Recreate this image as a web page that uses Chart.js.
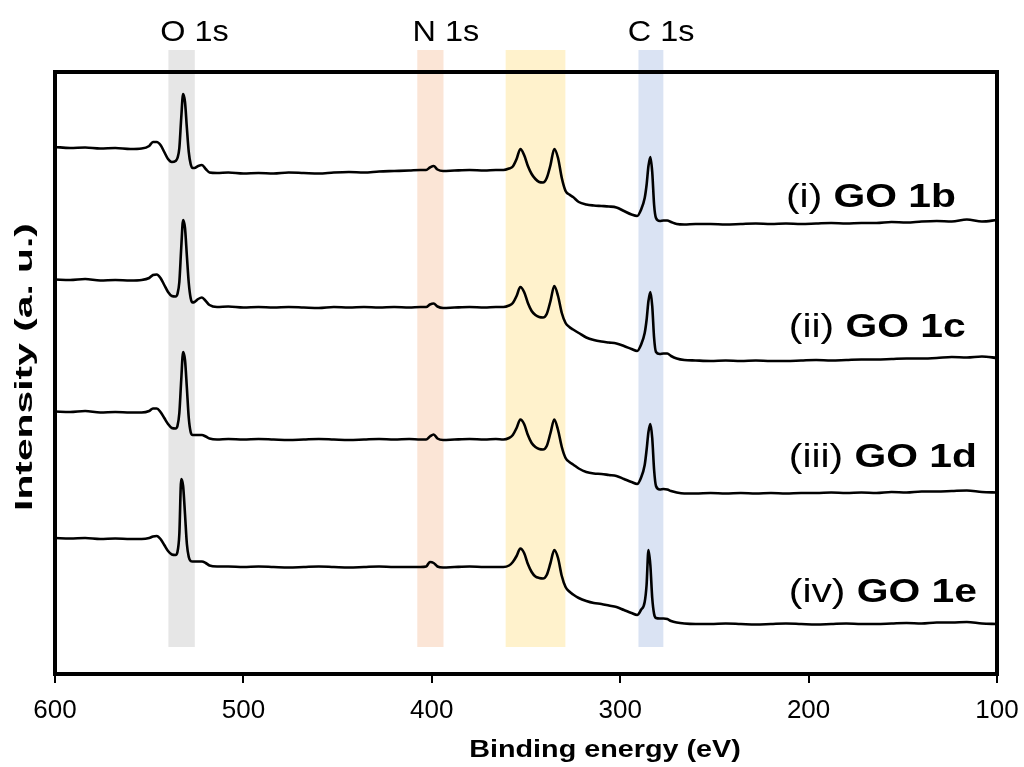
<!DOCTYPE html>
<html><head><meta charset="utf-8">
<script src="https://cdn.jsdelivr.net/npm/chart.js@4"></script>
<style>html,body{margin:0;padding:0;background:#fff}#wrap{width:1024px;height:767px}</style>
</head><body><div id="wrap"><canvas id="c" width="1024" height="767"></canvas></div>
<script>
// Binding energy grid (eV)
const energy = [600,592,584,576,568,560,554,550,548,546,544,542,540,538,536,535,534,533,532,531,530,529,528,527,526,524,522,520,518,514,508,500,492,484,476,468,460,452,444,436,428,420,412,406,403,401,399,397,394,388,380,372,366,362,359,357,355,353,351,349,347,345,343,341,339,337,335,333,331,329,327,325,322,318,314,310,306,302,298,294,291,289,287,286,285,284,283,282,281,279,277,275,273,270,266,260,252,244,236,228,220,212,204,196,188,180,172,164,156,148,140,132,124,116,108,100];

// Intensities (a.u., offset-stacked)
const goB = [527,526,526.5,525.5,526,525,525.5,528,532,532,529,522,515,512,513,516,526,556,580,572,546,522,510,506,506,508,509,505,501.5,501,501.5,500.5,501,500.5,501.5,501,500.5,501.5,502,501.5,502.5,503,503.5,504,504,506.5,508,504.5,503,503.5,504,503.5,504,504,505.5,507.5,515,525,519,508,500,495,492,491.5,496,509,525,516,496,483,479.5,477,472,469.5,468.5,468,467.5,466.5,463,459.5,458,464,476,489,508,517,502,469,456,453,453.5,453.5,452,450,449.5,450,450,449.5,450,450.5,450,450.5,450,450.5,451,450.5,451,451,452,451.5,452.5,453,452.5,454.5,452.5,454];
const goC = [394.5,394,395,393.5,394,393.5,394,396,399,399.5,396,389,382,378,377.5,380,392,426,454,446,418,391,376,371.5,372,375,376.5,373,369,367,367.5,366.5,367,366.5,367,366.5,366,367,366.5,367,366.5,367,366.5,367,367,369.5,370.5,367.5,366,366.5,367,366.5,367,367,368.5,371,378,387,382,371,363,359,357,356.5,360,373,388,378,361,351,347,344.5,341,336.5,334,332.5,331.5,330.5,328,325,323,329,341,354,373,382,368,336,322,320,320.5,320.5,318,315.5,314,313.5,313,313.5,313,313.5,313,313,313.5,314,313.5,314,314.5,314.5,315,315.5,315.5,316,317,316.5,317.5,316];
const goD = [262.5,262,263,261.5,262,261.5,261.5,263,265.5,265.5,262,256,250,246,245.5,248,261,294,322,314,286,256,242,239,239,239,239,237.5,235.5,234.5,235,234.5,235,234.5,234,234.5,235,234.5,234,234.5,235,234.5,235,234.5,234.5,237.5,239.5,235.5,234,234.5,235,234.5,235,234.5,236,239,246,254.5,250,239,231,227,225,224.5,228,241,254.5,244,227,216,212,209.5,205.5,202,200.5,200,199,198,195,192,190,196,209,224,242,250,236,204,188,184.5,185,184.5,183,181.5,180.5,180.5,181,180.5,181,180.5,181,180.5,181,181,181.5,181,181.5,181,182,181.5,182.5,182.5,183,183.5,182,181.5];
const goE = [136,135.5,136,135,135.5,135,135,136,137.5,138,135,129,123,119.5,119,122,140,195,188,160,130,117,113,112.5,112.5,112.5,112.5,111,108.5,107.5,107.5,107,107.5,107,106.5,107,107.5,107,106.5,107,107.5,107,107,107,107.5,112,111,107.5,106.5,107,107.5,107,107,107,108.5,112,118,125.5,121,110,102,97.5,96,95.5,99,111,124,116,98,87,82.5,79.5,76,73,71,70,68.5,67,64,61,59,64,72,89,124,109,76,60,56,55.5,55.5,55,53,51.5,50.5,50,50,50.5,50,49.5,50,50.5,50,49.5,50,50.5,50,50,50.5,51,50.5,51.5,51.5,52,50.5,50];

const seriesNames = ['(i) GO 1b','(ii) GO 1c','(iii) GO 1d','(iv) GO 1e'];
const xTicks = [600,500,400,300,200,100];
const bandRanges = [[539.8,525.8],[407.7,393.8],[360.8,329.1],[290.3,277.1]];
const peakLabels = ['O 1s','N 1s','C 1s'];
const peakLabelEnergy = [526,392.5,278.3];

// ---- styling / placement (not data) ----
const FONT = '"Liberation Sans", Arial, sans-serif';
const bandColors = ['#e6e6e6','#fbe5d6','#fff2cc','#dae3f3'];
const bandSpan = [624, 27];
const sampleLabelPos = [[212,467],[210.5,337.5],[210.5,207.5],[210.5,72.5]];

const allSeries = [goB, goC, goD, goE];
const datasets = allSeries.map((s, i) => ({
  label: seriesNames[i],
  data: energy.map((e, j) => ({x: e, y: s[j]})),
  borderColor: '#000',
  borderWidth: 2.6,
  pointRadius: 0,
  fill: false,
  cubicInterpolationMode: 'monotone',
  clip: false
}));

function drawParts(ctx, parts, x, y, sx, size, align) {
  const widths = parts.map(p => { ctx.font = (p.bold ? 'bold ' : '') + size + 'px ' + FONT; return ctx.measureText(p.t).width; });
  const total = widths.reduce((a, b) => a + b, 0);
  ctx.save();
  ctx.translate(x, y);
  ctx.scale(sx, 1);
  ctx.textBaseline = 'alphabetic';
  ctx.textAlign = 'left';
  ctx.fillStyle = '#000';
  let cx = align === 'center' ? -total / 2 : 0;
  parts.forEach((p, i) => { ctx.font = (p.bold ? 'bold ' : '') + size + 'px ' + FONT; ctx.fillText(p.t, cx, 0); cx += widths[i]; });
  ctx.restore();
}

const decor = {
  id: 'decor',
  beforeDatasetsDraw(chart) {
    const ctx = chart.ctx, xs = chart.scales.x, ys = chart.scales.y;
    ctx.save();
    bandRanges.forEach((b, i) => {
      const x1 = xs.getPixelForValue(b[0]), x2 = xs.getPixelForValue(b[1]);
      const y1 = ys.getPixelForValue(bandSpan[0]), y2 = ys.getPixelForValue(bandSpan[1]);
      ctx.fillStyle = bandColors[i];
      ctx.fillRect(Math.min(x1, x2), y1, Math.abs(x2 - x1), y2 - y1);
    });
    ctx.restore();
  },
  afterDatasetsDraw(chart) {
    const ctx = chart.ctx, a = chart.chartArea, xs = chart.scales.x, ys = chart.scales.y;
    ctx.save();
    ctx.strokeStyle = '#000';
    ctx.lineWidth = 4;
    ctx.strokeRect(a.left, a.top, a.right - a.left, a.bottom - a.top);
    ctx.restore();
    peakLabels.forEach((t, i) => {
      drawParts(ctx, [{t: t, bold: false}], xs.getPixelForValue(peakLabelEnergy[i]), 41, 1.08, 30, 'center');
    });
    seriesNames.forEach((n, i) => {
      const k = n.indexOf(' ');
      const parts = [{t: n.slice(0, k + 1), bold: false}, {t: n.slice(k + 1), bold: true}];
      drawParts(ctx, parts, xs.getPixelForValue(sampleLabelPos[i][0]), ys.getPixelForValue(sampleLabelPos[i][1]), 1.2, 34, 'left');
    });
    drawParts(ctx, [{t: 'Binding energy (eV)', bold: true}], 605, 757, 1.25, 23, 'center');
    ctx.save();
    ctx.translate(32, (a.top + a.bottom) / 2 - 6);
    ctx.rotate(-Math.PI / 2);
    drawParts(ctx, [{t: 'Intensity (a. u.)', bold: true}], 0, 0, 1.7, 24, 'center');
    ctx.restore();
  }
};

new Chart(document.getElementById('c'), {
  type: 'line',
  data: {datasets},
  options: {
    responsive: false,
    animation: false,
    devicePixelRatio: 1,
    layout: {padding: {top: 72, right: 27, left: 0, bottom: 0}},
    plugins: {legend: {display: false}, tooltip: {enabled: false}},
    scales: {
      x: {
        type: 'linear',
        min: 100, max: 600, reverse: true,
        afterBuildTicks: s => { s.ticks = xTicks.map(v => ({value: v})); },
        afterFit: s => { s.height = 93; s.paddingLeft = 0; s.paddingRight = 0; },
        border: {display: false},
        grid: {display: true, drawOnChartArea: false, drawTicks: true, tickLength: 9, color: '#000', lineWidth: 2},
        ticks: {color: '#000', font: {family: FONT, size: 26}, padding: 12, maxRotation: 0, autoSkip: false}
      },
      y: {
        min: 0, max: 602,
        afterFit: s => { s.width = 55; },
        border: {display: false},
        grid: {display: false},
        ticks: {display: false}
      }
    }
  },
  plugins: [decor]
});
</script>
</body></html>
